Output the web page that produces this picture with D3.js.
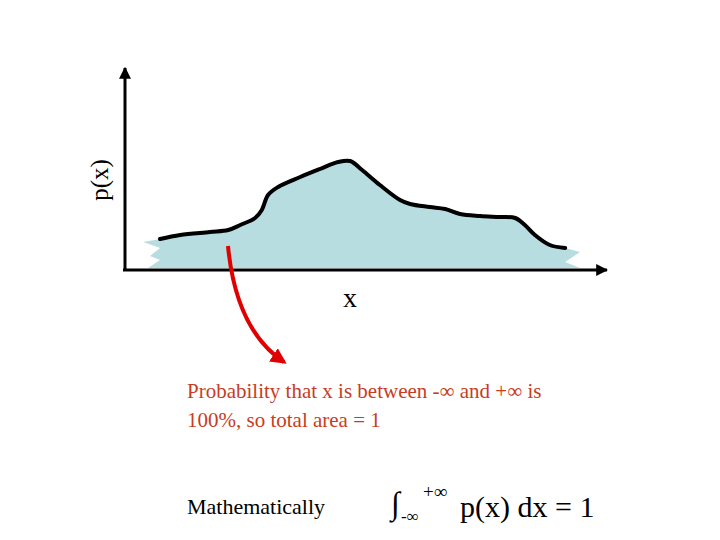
<!DOCTYPE html>
<html><head><meta charset="utf-8">
<script src="https://cdn.jsdelivr.net/npm/d3@7"></script>
<style>body{margin:0;background:#fff}text{font-family:"Liberation Serif","Times New Roman",serif}</style>
</head><body><svg id="c" width="720" height="540"></svg>
<script>
// curve in axis units (x 0..100, y 0..100)
var curveX = [7.3, 11.5, 17.7, 21.5, 24, 27.1, 28.5, 29.8, 31.9, 36.5, 40.6, 44.4, 46.9, 49.4, 53.1, 57.3, 59.4, 63.5, 66.7, 69.8, 74, 78.1, 81.3, 83.3, 85.4, 88.5, 91.7];
var curveY = [15.5, 17.5, 19, 20, 22.5, 26, 30, 37.5, 41.5, 46.5, 50.5, 54, 54.5, 50, 42.5, 35, 33, 31.5, 30.5, 28, 27, 26.5, 26, 22.5, 17.5, 12.5, 11];
var leftEdgeX = [3.8, 7.3, 5.2, 7.3, 4.8], leftEdgeY = [14, 11, 7, 5, 1];
var rightEdgeX = [94.8, 91.7, 94.8], rightEdgeY = [9, 4, 1];

var svg = d3.select("#c");
var x = d3.scaleLinear().domain([0, 100]).range([125, 605]);
var y = d3.scaleLinear().domain([0, 100]).range([270, 70]);

var curve = curveX.map(function(d, i) { return [x(d), y(curveY[i])]; });
var fill = leftEdgeX.map(function(d, i) { return [x(d), y(leftEdgeY[i])]; }).reverse()
    .concat(curve)
    .concat(rightEdgeX.map(function(d, i) { return [x(d), y(rightEdgeY[i])]; }));

svg.append("path").attr("d", d3.line().curve(d3.curveLinear)(fill)).attr("fill", "#b8dde1");
svg.append("path").attr("d", d3.line().curve(d3.curveCatmullRom)(curve))
    .attr("fill", "none").attr("stroke", "#000").attr("stroke-width", 4).attr("stroke-linecap", "round");

// axes
var defs = svg.append("defs");
defs.append("marker").attr("id", "ah").attr("viewBox", "0 0 10 10").attr("refX", 9).attr("refY", 5)
    .attr("markerWidth", 4).attr("markerHeight", 4).attr("orient", "auto")
    .append("path").attr("d", "M0,0L10,5L0,10z").attr("fill", "#000");
defs.append("marker").attr("id", "rh").attr("viewBox", "0 0 10 10").attr("refX", 8).attr("refY", 5)
    .attr("markerWidth", 4).attr("markerHeight", 4).attr("orient", "auto")
    .append("path").attr("d", "M0,0L10,5L0,10z").attr("fill", "#e00000");
svg.append("line").attr("x1", x(0)).attr("y1", y(0)).attr("x2", x(0)).attr("y2", y(100) - 2)
    .attr("stroke", "#000").attr("stroke-width", 3).attr("marker-end", "url(#ah)");
svg.append("line").attr("x1", x(0) - 2).attr("y1", y(0)).attr("x2", x(100) + 2).attr("y2", y(0))
    .attr("stroke", "#000").attr("stroke-width", 3).attr("marker-end", "url(#ah)");

svg.append("text").attr("transform", "translate(108,180) rotate(-90)").attr("text-anchor", "middle")
    .attr("font-size", 25).text("p(x)");
svg.append("text").attr("x", 350).attr("y", 307).attr("text-anchor", "middle").attr("font-size", 28).text("x");

// red arrow
svg.append("path").attr("d", "M228,246 Q236,330 284,362").attr("fill", "none")
    .attr("stroke", "#e00000").attr("stroke-width", 4).attr("marker-end", "url(#rh)");

svg.append("text").attr("x", 187).attr("y", 398).attr("font-size", 21).attr("fill", "#c83c1e")
    .text("Probability that x is between -\u221e and +\u221e is");
svg.append("text").attr("x", 187).attr("y", 427).attr("font-size", 21).attr("fill", "#c83c1e")
    .text("100%, so total area = 1");
svg.append("text").attr("x", 187).attr("y", 514).attr("font-size", 22).text("Mathematically");
svg.append("text").attr("x", 391).attr("y", 514).attr("font-size", 32).text("\u222b");
svg.append("text").attr("x", 401).attr("y", 522).attr("font-size", 17).text("-\u221e");
svg.append("text").attr("x", 423).attr("y", 498).attr("font-size", 19).text("+\u221e");
svg.append("text").attr("x", 460).attr("y", 517).attr("font-size", 30).text("p(x) dx = 1");
</script></body></html>
